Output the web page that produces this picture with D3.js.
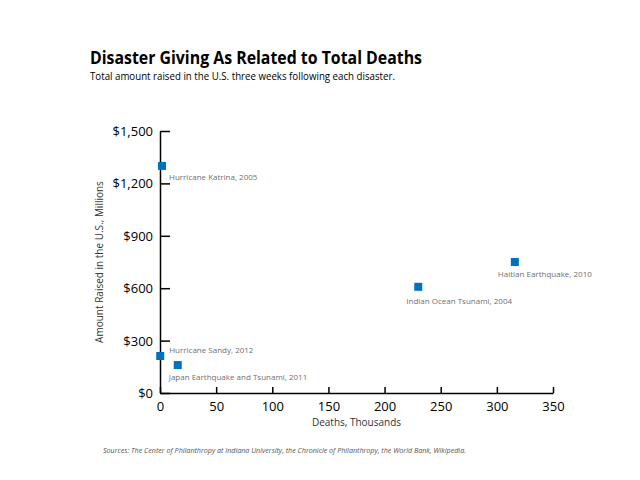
<!DOCTYPE html>
<html>
<head>
<meta charset="utf-8">
<script src="https://cdn.jsdelivr.net/npm/d3@7"></script>
<style>
  html, body { margin: 0; padding: 0; background: #fff; }
  svg { display: block; }
  text { font-family: "Open Sans", "Noto Sans", sans-serif; }
</style>
</head>
<body>
<svg id="chart" width="640" height="480"></svg>
<script>
// ---- data ----
const disasters = ["Hurricane Katrina, 2005", "Hurricane Sandy, 2012", "Japan Earthquake and Tsunami, 2011", "Indian Ocean Tsunami, 2004", "Haitian Earthquake, 2010"];
const deathsThousands = [1.8, 0.2, 15.8, 230, 316];
const raisedMillions = [1300, 212, 160, 608, 750];
const xTicks = [0, 50, 100, 150, 200, 250, 300, 350];
const yTicks = [0, 300, 600, 900, 1200, 1500];
// label placement: [dx, dy] relative to the marker
const labelOffsets = [[7, 14], [9, -3], [-9, 15], [-12, 17], [-17, 15]];

const svg = d3.select("#chart");
const mLeft = 160, mRight = 553, mTop = 131, mBottom = 393;

const x = d3.scaleLinear().domain([0, 350]).range([mLeft, mRight]);
const y = d3.scaleLinear().domain([0, 1500]).range([mBottom, mTop]);

// title
svg.append("text").attr("x", 90).attr("y", 64)
  .attr("font-size", 18.5).attr("font-weight", 700).attr("fill", "#000")
  .attr("textLength", 332).attr("lengthAdjust", "spacingAndGlyphs")
  .text("Disaster Giving As Related to Total Deaths");
svg.append("text").attr("x", 90).attr("y", 80)
  .attr("font-size", 10.5).attr("fill", "#000")
  .attr("textLength", 305).attr("lengthAdjust", "spacingAndGlyphs")
  .text("Total amount raised in the U.S. three weeks following each disaster.");

// axes
const xAxis = d3.axisBottom(x).tickValues(xTicks).tickSizeInner(-6).tickSizeOuter(0).tickPadding(9);
const yAxis = d3.axisLeft(y).tickValues(yTicks).tickSizeInner(-10).tickSizeOuter(0).tickPadding(7)
  .tickFormat(d => "$" + d3.format(",")(d));

const gx = svg.append("g").attr("transform", `translate(0,${mBottom})`).call(xAxis);
const gy = svg.append("g").attr("transform", `translate(${mLeft},0)`).call(yAxis);
[gx, gy].forEach(g => {
  g.select(".domain").attr("stroke", "#000").attr("stroke-width", 1.5);
  g.selectAll(".tick line").attr("stroke", "#000").attr("stroke-width", 1.5);
  g.selectAll(".tick text").attr("font-family", "'Open Sans', sans-serif").attr("font-size", 13).attr("fill", "#000");
});
gy.selectAll(".tick text").attr("dy", "0.35em");

// axis titles
svg.append("text").attr("x", x(175)).attr("y", 426)
  .attr("text-anchor", "middle").attr("font-size", 10).attr("fill", "#333")
  .text("Deaths, Thousands");
svg.append("text").attr("transform", `translate(103,${(mTop + mBottom) / 2}) rotate(-90)`)
  .attr("text-anchor", "middle").attr("font-size", 10).attr("fill", "#333")
  .text("Amount Raised in the U.S., Millions");

// points
const data = disasters.map((name, i) => ({ name, dx: deathsThousands[i], v: raisedMillions[i], o: labelOffsets[i] }));
svg.append("g").selectAll("rect").data(data).join("rect")
  .attr("x", d => x(d.dx) - 4).attr("y", d => y(d.v) - 4)
  .attr("width", 8).attr("height", 8).attr("fill", "#0071bc");

svg.append("g").selectAll("text").data(data).join("text")
  .attr("x", d => x(d.dx) + d.o[0]).attr("y", d => y(d.v) + d.o[1])
  .attr("font-size", 8).attr("fill", "#707070")
  .text(d => d.name);

// source
svg.append("text").attr("x", 103).attr("y", 453)
  .attr("font-size", 7.5).attr("font-style", "italic").attr("fill", "#555")
  .attr("textLength", 363).attr("lengthAdjust", "spacingAndGlyphs")
  .text("Sources: The Center of Philanthropy at Indiana University, the Chronicle of Philanthropy, the World Bank, Wikipedia.");
</script>
</body>
</html>
